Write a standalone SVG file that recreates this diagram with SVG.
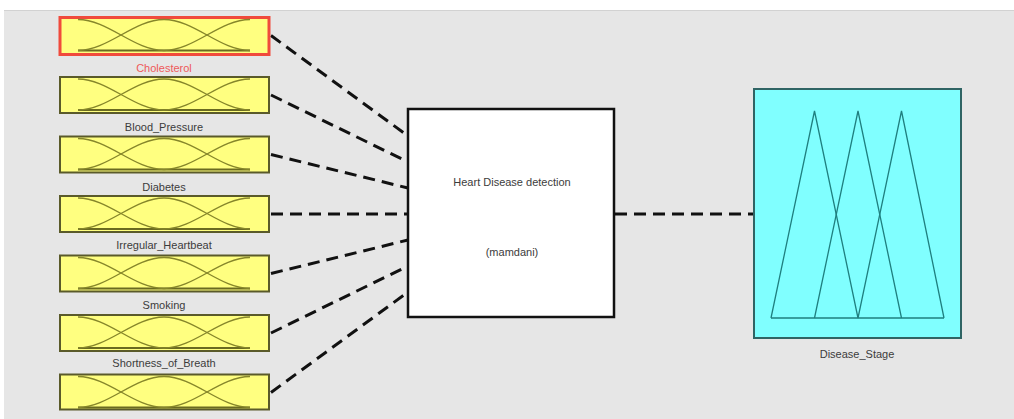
<svg xmlns="http://www.w3.org/2000/svg" xmlns:xlink="http://www.w3.org/1999/xlink" width="1014" height="419" viewBox="0 0 1014 419">
  <style>
    .lbl { font-family: "Liberation Sans", Arial, sans-serif; font-size: 11px; fill: #3c3c3c; text-anchor: middle; }
    .lbl.sel { fill: #ee5a5a; }
    .inbox { fill: #ffff80; stroke: #5a5a2a; stroke-width: 2; }
    .inbox.sel { stroke: #f04a3c; stroke-width: 3; }
    .mf { fill: none; stroke: #86862a; stroke-width: 1.4; }
    .mfbase { fill: none; stroke: #6a6a20; stroke-width: 2.2; }
    .wire { fill: none; stroke: #111; stroke-width: 3; stroke-dasharray: 12 7; }
    .outmf { fill: none; stroke: #1f7f7f; stroke-width: 1.3; }
  </style>
  <defs>
    <!-- three overlapping gaussian-like membership curves of an input variable -->
    <g id="mfset">
      <path class="mfbase" d="M18,33 H190"/>
      <path class="mf" d="M18,2 C48,2 74,33 104,33"/>
      <path class="mf" d="M18,33 C48,33 74,2 104,2 C134,2 160,33 190,33"/>
      <path class="mf" d="M104,33 C134,33 160,2 190,2"/>
    </g>
  </defs>

  <!-- canvas -->
  <rect x="0" y="0" width="1014" height="419" fill="#ffffff"/>
  <rect x="4" y="10" width="1010" height="409" fill="#e6e6e6"/>
  <line x1="4" y1="10.5" x2="1014" y2="10.5" stroke="#d2d2d2" stroke-width="1"/>

  <!-- connectors -->
  <g id="connectors">
    <line class="wire" x1="271" y1="35.5" x2="408" y2="136"/>
    <line class="wire" x1="271" y1="95" x2="408" y2="162"/>
    <line class="wire" x1="271" y1="154.5" x2="408" y2="188"/>
    <line class="wire" x1="271" y1="214" x2="408" y2="214"/>
    <line class="wire" x1="271" y1="273.5" x2="408" y2="240"/>
    <line class="wire" x1="271" y1="333" x2="408" y2="266"/>
    <line class="wire" x1="271" y1="392.5" x2="408" y2="292"/>
    <line class="wire" x1="615" y1="214" x2="754" y2="214"/>
  </g>

  <!-- input variables -->
  <g id="in-cholesterol" transform="translate(60,17.5)">
    <rect class="inbox sel" x="0" y="0" width="209" height="37"/>
    <use xlink:href="#mfset"/>
    <text class="lbl sel" x="104" y="54.5">Cholesterol</text>
  </g>
  <g id="in-blood-pressure" transform="translate(60,77)">
    <rect class="inbox" x="0" y="0" width="209" height="36"/>
    <use xlink:href="#mfset"/>
    <text class="lbl" x="104" y="54">Blood_Pressure</text>
  </g>
  <g id="in-diabetes" transform="translate(60,136.5)">
    <rect class="inbox" x="0" y="0" width="209" height="36"/>
    <use xlink:href="#mfset"/>
    <text class="lbl" x="104" y="54">Diabetes</text>
  </g>
  <g id="in-irregular-heartbeat" transform="translate(60,196)">
    <rect class="inbox" x="0" y="0" width="209" height="36"/>
    <use xlink:href="#mfset"/>
    <text class="lbl" x="104" y="53">Irregular_Heartbeat</text>
  </g>
  <g id="in-smoking" transform="translate(60,255.5)">
    <rect class="inbox" x="0" y="0" width="209" height="36"/>
    <use xlink:href="#mfset"/>
    <text class="lbl" x="104" y="53.5">Smoking</text>
  </g>
  <g id="in-shortness-of-breath" transform="translate(60,315)">
    <rect class="inbox" x="0" y="0" width="209" height="36"/>
    <use xlink:href="#mfset"/>
    <text class="lbl" x="104" y="52">Shortness_of_Breath</text>
  </g>
  <g id="in-age" transform="translate(60,374.5)">
    <rect class="inbox" x="0" y="0" width="209" height="35"/>
    <use xlink:href="#mfset"/>
    <text class="lbl" x="104" y="52.5">Age</text>
  </g>

  <!-- inference system -->
  <g id="fis">
    <rect x="408" y="109" width="206" height="208" fill="#ffffff" stroke="#111" stroke-width="2.5"/>
    <text class="lbl" x="512" y="186">Heart Disease detection</text>
    <text class="lbl" x="512" y="256">(mamdani)</text>
  </g>

  <!-- output variable -->
  <g id="out-disease-stage">
    <rect x="754" y="89" width="207" height="249" fill="#80ffff" stroke="#2f6464" stroke-width="2"/>
    <path class="outmf" d="M771,318 H944"/>
    <path class="outmf" d="M771,318 L814.5,111 L858,318"/>
    <path class="outmf" d="M814.5,318 L858,111 L901.5,318"/>
    <path class="outmf" d="M858,318 L901.5,111 L944,318"/>
    <text class="lbl" x="857" y="358">Disease_Stage</text>
  </g>
</svg>
